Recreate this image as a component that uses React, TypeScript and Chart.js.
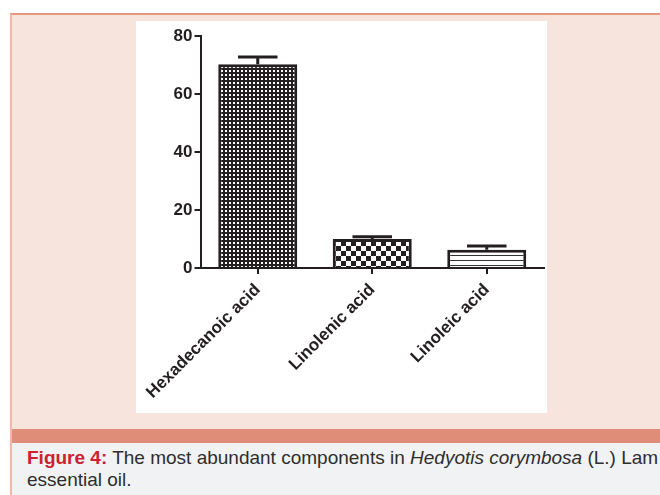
import React, { useEffect, useRef } from "react";
import { Chart, registerables } from "chart.js";

Chart.register(...registerables);

const categories = ["Hexadecanoic acid", "Linolenic acid", "Linoleic acid"];
const means = [70.3, 10.0, 6.3];
const errors = [2.5, 0.8, 1.3];
const yTicks = [0, 20, 40, 60, 80];

const INK = "#231f20";

function makePattern(kind: string): CanvasPattern | string {
  const c = document.createElement("canvas");
  const g = c.getContext("2d");
  if (!g) return INK;
  if (kind === "dots") {
    c.width = 4;
    c.height = 4;
    g.fillStyle = INK;
    g.fillRect(0, 0, 4, 4);
    g.fillStyle = "#ffffff";
    g.fillRect(1, 1, 2, 2);
  } else if (kind === "checker") {
    c.width = 10;
    c.height = 10;
    g.fillStyle = INK;
    g.fillRect(0, 0, 10, 10);
    g.fillStyle = "#ffffff";
    g.fillRect(0, 0, 5, 5);
    g.fillRect(5, 5, 5, 5);
  } else {
    c.width = 4;
    c.height = 5;
    g.fillStyle = "#ffffff";
    g.fillRect(0, 0, 4, 5);
    g.fillStyle = "#333333";
    g.fillRect(0, 4, 4, 1);
  }
  const p = g.createPattern(c, "repeat");
  return p || INK;
}

const errorBarPlugin = {
  id: "errorBars",
  afterDatasetsDraw(chart: any) {
    const ctx = chart.ctx;
    const meta = chart.getDatasetMeta(0);
    const yScale = chart.scales.y;
    ctx.save();
    ctx.strokeStyle = INK;
    ctx.lineWidth = 3;
    meta.data.forEach((bar: any, i: number) => {
      const x = bar.x;
      const yTop = yScale.getPixelForValue(means[i] + errors[i]);
      const yVal = yScale.getPixelForValue(means[i]);
      const half = bar.width * 0.25;
      ctx.beginPath();
      ctx.moveTo(x, yVal);
      ctx.lineTo(x, yTop);
      ctx.moveTo(x - half, yTop);
      ctx.lineTo(x + half, yTop);
      ctx.stroke();
    });
    ctx.restore();
  },
};

function BarChart() {
  const ref = useRef<HTMLCanvasElement | null>(null);
  useEffect(() => {
    if (!ref.current) return;
    const font = { family: "'Liberation Sans', Arial, sans-serif", size: 17, weight: "bold" as const };
    const chart = new Chart(ref.current, {
      type: "bar",
      data: {
        labels: categories,
        datasets: [
          {
            data: means,
            backgroundColor: [makePattern("dots"), makePattern("checker"), makePattern("stripes")] as any,
            borderColor: INK,
            borderWidth: 3,
            barPercentage: 0.69,
            categoryPercentage: 1.0,
          },
        ],
      },
      options: {
        animation: false,
        responsive: false,
        layout: { padding: { top: 15, right: 3, bottom: 0, left: 0 } },
        plugins: { legend: { display: false }, tooltip: { enabled: false } },
        scales: {
          x: {
            offset: true,
            grid: {
              display: true,
              drawOnChartArea: false,
              drawTicks: true,
              tickLength: 6,
              offset: false,
              color: INK,
              lineWidth: 2,
            },
            border: { display: true, color: INK, width: 2 },
            ticks: {
              color: INK,
              font,
              minRotation: 45,
              maxRotation: 45,
              autoSkip: false,
              padding: 6,
            },
            afterFit: (s: any) => {
              s.height = 145;
              s.paddingLeft = 0;
              s.paddingRight = 0;
            },
          },
          y: {
            min: 0,
            max: 80,
            afterBuildTicks: (s: any) => {
              s.ticks = yTicks.map((v) => ({ value: v }));
            },
            grid: {
              display: true,
              drawOnChartArea: false,
              drawTicks: true,
              tickLength: 6,
              color: INK,
              lineWidth: 2,
            },
            border: { display: true, color: INK, width: 2 },
            ticks: { color: INK, font, padding: 2 },
            afterFit: (s: any) => {
              s.width = 64.5;
            },
          },
        },
      },
      plugins: [errorBarPlugin],
    });
    return () => chart.destroy();
  }, []);
  return <canvas ref={ref} width={411} height={392} style={{ display: "block", width: 411, height: 392 }} />;
}

export default function App() {
  return (
    <div
      style={{
        position: "absolute",
        left: 10,
        top: 13,
        width: 650,
        height: 482,
        boxSizing: "border-box",
        background: "#f7e4dc",
        borderTop: "2px solid #e8977f",
        borderLeft: "2px solid #f2b8a7",
        overflow: "hidden",
      }}
    >
      <div style={{ position: "absolute", left: 124, top: 6, width: 411, height: 392, background: "#ffffff" }}>
        <BarChart />
      </div>
      <div style={{ position: "absolute", left: 0, top: 414, width: 650, height: 14, background: "#df8d78" }} />
      <div
        style={{
          position: "absolute",
          left: 0,
          top: 428,
          width: 650,
          height: 60,
          background: "#f1f2f4",
          boxSizing: "border-box",
          paddingLeft: 15,
          paddingTop: 4,
          fontFamily: "'Liberation Sans', Arial, sans-serif",
          fontSize: 19,
          lineHeight: "22px",
          color: "#2e2e2e",
          whiteSpace: "nowrap",
        }}
      >
        <span style={{ color: "#cd2130", fontWeight: "bold" }}>Figure 4:</span> The most abundant components in{" "}
        <i>Hedyotis corymbosa</i> (L.) Lam
        <br />
        essential oil.
      </div>
    </div>
  );
}
